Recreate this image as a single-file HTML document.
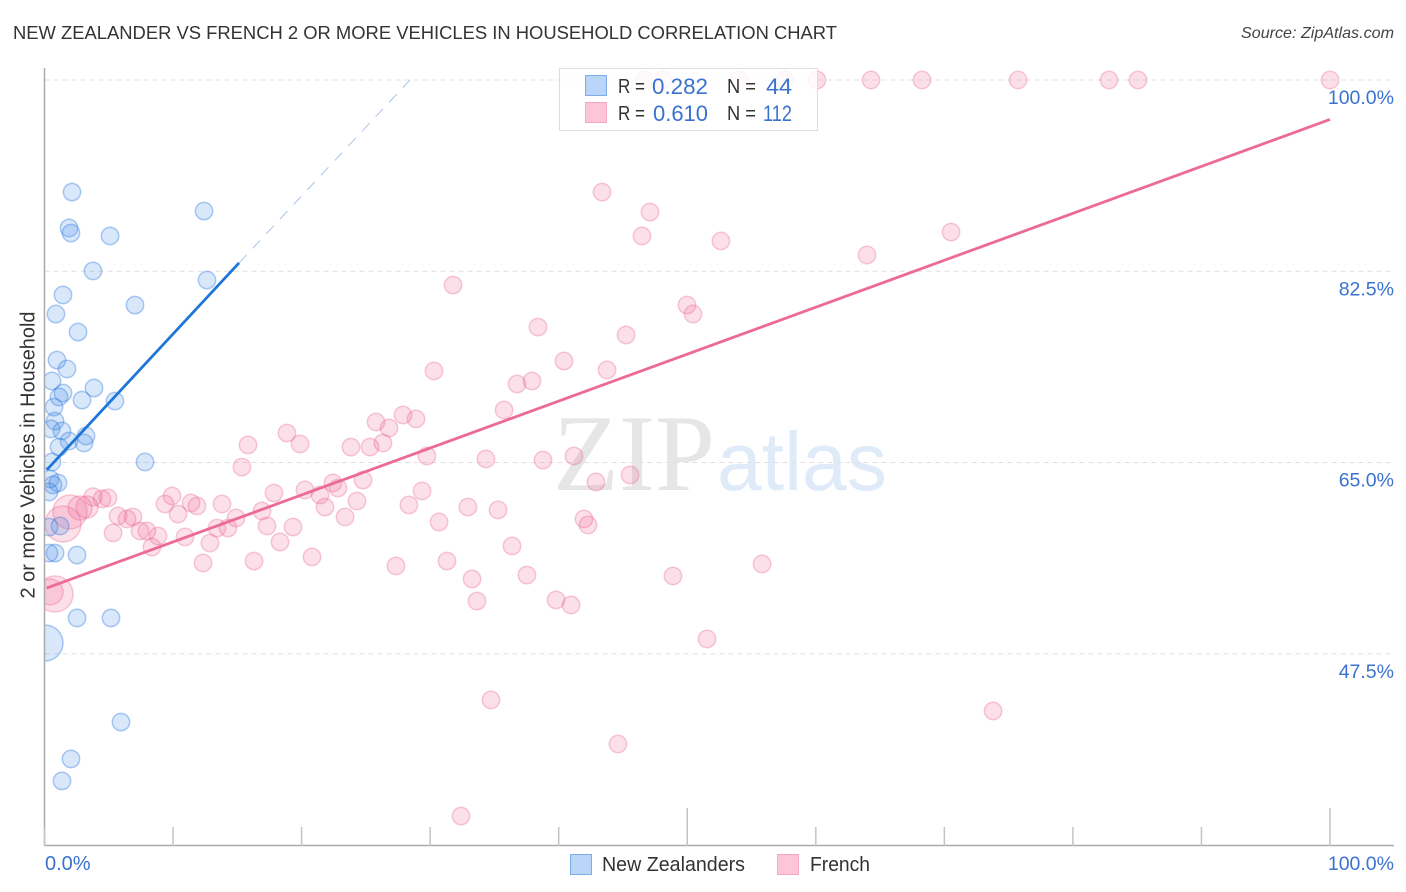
<!DOCTYPE html>
<html lang="en">
<head>
<meta charset="utf-8">
<title>New Zealander vs French 2 or more Vehicles in Household Correlation Chart</title>
<style>
html,body{margin:0;padding:0;background:#fff;width:1406px;height:892px;overflow:hidden}
svg{display:block;font-family:"Liberation Sans",Arial,sans-serif}
</style>
</head>
<body>
<svg id="chart" width="1406" height="892" viewBox="0 0 1406 892" xmlns="http://www.w3.org/2000/svg">
  <defs>
    <clipPath id="plot-clip"><rect x="45" y="60" width="1350" height="786"></rect></clipPath>
  </defs>
  <rect x="0" y="0" width="1406" height="892" fill="#fff"></rect>
  <text x="13" y="39" font-size="18" fill="#333" textLength="824" lengthAdjust="spacingAndGlyphs">NEW ZEALANDER VS FRENCH 2 OR MORE VEHICLES IN HOUSEHOLD CORRELATION CHART</text>
  <text x="1241" y="38" font-size="16" font-style="italic" fill="#444" textLength="153" lengthAdjust="spacingAndGlyphs">Source: ZipAtlas.com</text>
  <g>
    <text x="553" y="490" font-family="'Liberation Serif',serif" font-size="109" fill="#e6e6e6" textLength="162" lengthAdjust="spacingAndGlyphs">ZIP</text>
    <text x="717" y="490" font-size="83" fill="#e0ebf9" textLength="170" lengthAdjust="spacingAndGlyphs">atlas</text>
  </g>
  <g id="grid"></g>
  <g id="marks" clip-path="url(#plot-clip)"></g>
  <g id="trends"></g>
  <g id="axes"></g>
  <text transform="translate(34.5,455) rotate(-90)" font-size="20" fill="#333" text-anchor="middle" textLength="287" lengthAdjust="spacingAndGlyphs">2 or more Vehicles in Household</text>
  <g>
    <rect x="559.5" y="68.5" width="258" height="62" fill="#fff" fill-opacity="0.84" stroke="#ddd" stroke-width="1"></rect>
    <rect x="585.5" y="75.5" width="21" height="20" fill="#b9d5f8" stroke="#7fabe6"></rect>
    <rect x="585.5" y="102.5" width="21" height="20" fill="#fcc6d8" stroke="#f3a9c2"></rect>
    <g font-size="20" fill="#333">
      <text x="618" y="93" textLength="27" lengthAdjust="spacingAndGlyphs">R =</text>
      <text x="727" y="93" textLength="29" lengthAdjust="spacingAndGlyphs">N =</text>
      <text x="618" y="120" textLength="27" lengthAdjust="spacingAndGlyphs">R =</text>
      <text x="727" y="120" textLength="29" lengthAdjust="spacingAndGlyphs">N =</text>
    </g>
    <g font-size="22" fill="#3a72cf">
      <text x="652" y="94" textLength="56" lengthAdjust="spacingAndGlyphs">0.282</text>
      <text x="766" y="94" textLength="26" lengthAdjust="spacingAndGlyphs">44</text>
      <text x="653" y="121" textLength="55" lengthAdjust="spacingAndGlyphs">0.610</text>
      <text x="763" y="121" textLength="29" lengthAdjust="spacingAndGlyphs">112</text>
    </g>
  </g>
  <g>
    <rect x="570.5" y="854.5" width="21" height="20" fill="#b9d5f8" stroke="#7fabe6"></rect>
    <text x="602" y="871" font-size="20" fill="#333" textLength="143" lengthAdjust="spacingAndGlyphs">New Zealanders</text>
    <rect x="777.5" y="854.5" width="21" height="20" fill="#fcc6d8" stroke="#f3a9c2"></rect>
    <text x="810" y="871" font-size="20" fill="#333" textLength="60" lengthAdjust="spacingAndGlyphs">French</text>
  </g>
</svg>
<script>
const yTickValues = [100, 82.5, 65, 47.5];
const yTickLabels = ["100.0%", "82.5%", "65.0%", "47.5%"];
const xTickValues = [0, 10, 20, 30, 40, 50, 60, 70, 80, 90, 100];
const xEndLabels = ["0.0%", "100.0%"];

const blueX = [2.14,1.91,2.06,5.10,12.41,3.77,12.64,1.44,7.04,0.89,2.61,0.97,1.75,0.58,3.85,1.44,1.13,2.92,5.48,0.74,0.82,0.51,1.36,1.91,3.23,3.07,1.13,0.58,7.82,0.43,1.05,0.66,0.35,1.21,0.35,0.82,0.35,2.53,2.53,5.17,0.04,5.95,2.06,1.36];
const blueY = [89.75,86.46,86.00,85.73,88.01,82.53,81.70,80.33,79.41,78.59,76.94,74.38,73.56,72.46,71.82,71.36,71.00,70.72,70.63,70.08,68.80,68.07,67.89,66.97,67.43,66.79,66.42,65.05,65.05,63.50,63.13,62.95,62.31,59.20,59.10,56.72,56.72,56.54,50.78,50.78,48.49,41.26,37.88,35.87];
const blueWeight = [1,1,1,1,1,1,1,1,1,1,1,1,1,1,1,1,1,1,1,1,1,1,1,1,1,1,1,1,1,1,1,1,1,1,1,1,1,1,1,1,4.28,1,1,1];

const pinkX = [46.64,48.12,54.03,57.60,60.09,64.29,68.26,75.73,82.81,85.06,100,43.37,47.10,46.48,52.62,70.52,63.98,31.78,49.98,50.45,38.39,45.24,40.41,30.30,43.76,36.76,37.92,35.75,27.89,28.90,25.79,26.80,26.33,18.86,15.83,19.88,23.84,25.32,29.75,34.34,38.78,41.19,45.55,42.90,15.36,22.44,22.83,24.78,20.26,21.43,17.85,29.37,28.35,32.94,35.28,24.31,21.82,23.38,16.92,30.69,41.97,42.28,19.33,17.31,13.42,14.27,14.90,13.81,11.86,11.40,9.92,9.37,10.39,10.93,6.88,6.42,5.72,5.33,7.43,7.97,8.83,8.36,12.87,18.32,20.81,16.30,12.33,27.34,31.31,36.37,33.26,37.53,33.64,39.79,40.96,48.89,55.82,51.54,34.73,73.79,44.61,32.40,3.77,4.47,4.94,3.31,2.76,1.98,1.44,0.82,0.43];
const pinkY = [100,100,100,100,100,100,100,100,100,100,100,89.75,87.92,85.73,85.27,86.09,83.99,81.24,79.41,78.59,77.40,76.67,74.29,73.38,73.47,72.19,72.46,69.81,69.35,68.99,68.71,68.16,66.79,67.70,66.61,66.70,66.42,66.42,65.60,65.33,65.23,65.60,63.86,63.22,64.59,63.13,62.67,63.40,62.49,62.03,62.21,62.40,61.12,60.93,60.66,61.48,60.93,60.02,60.57,59.56,59.84,59.29,59.10,59.20,59.01,59.01,59.93,61.21,61.03,61.30,61.94,61.21,60.29,58.19,60.02,59.84,60.11,58.56,58.74,58.74,58.28,57.27,57.64,57.73,56.36,55.99,55.81,55.54,55.99,57.37,54.35,54.71,52.33,52.43,51.97,54.62,55.72,48.86,43.28,42.27,39.25,32.66,61.85,61.67,61.76,60.93,60.84,60.48,59.38,52.97,53.16];
const pinkWeight = [1,1,1,1,1,1,1,1,1,1,1,1,1,1,1,1,1,1,1,1,1,1,1,1,1,1,1,1,1,1,1,1,1,1,1,1,1,1,1,1,1,1,1,1,1,1,1,1,1,1,1,1,1,1,1,1,1,1,1,1,1,1,1,1,1,1,1,1,1,1,1,1,1,1,1,1,1,1,1,1,1,1,1,1,1,1,1,1,1,1,1,1,1,1,1,1,1,1,1,1,1,1,1.07,1,1,1.6,1.9,3.82,4.28,4.28,2.23];

const blueTrendX = [0.17, 15.13];
const blueTrendY = [64.32, 83.26];
const blueExtensionX = [15.13, 28.43];
const blueExtensionY = [83.26, 100];
const pinkTrendX = [0.17, 100];
const pinkTrendY = [53.52, 96.39];

const NS = "http://www.w3.org/2000/svg";
function xScale(v) { return 44.5 + v * 12.855; }
function yScale(v) { return 80 + (100 - v) * 10.93; }
function radius(w) { return 8.7 * Math.sqrt(w); }
function make(tag, attrs, parent) {
  const el = document.createElementNS(NS, tag);
  for (const k in attrs) el.setAttribute(k, attrs[k]);
  parent.appendChild(el);
  return el;
}
const grid = document.getElementById("grid");
const axes = document.getElementById("axes");
const marks = document.getElementById("marks");
const trends = document.getElementById("trends");

yTickValues.forEach(function (v, i) {
  const g = make("line", {x1: 44.5, x2: 1394, y1: yScale(v), y2: yScale(v), stroke: "#e0e0e0", "stroke-width": 1, "stroke-dasharray": "5 4"}, grid);
  
  
  const t = make("text", {x: 1394, y: yScale(v) + 24, "text-anchor": "end", "font-size": 19.5, fill: "#3a72cf"}, axes);
  t.textContent = yTickLabels[i];
  
  
});

const yAxis = make("line", {x1: 44.5, x2: 44.5, y1: 68, y2: 846, stroke: "#aaa", "stroke-width": 1.5}, axes);


const xAxis = make("line", {x1: 44, x2: 1394, y1: 845.5, y2: 845.5, stroke: "#aaa", "stroke-width": 1.5}, axes);



xTickValues.forEach(function (v) {
  const tall = v === 50 || v === 100;
  const tick = make("line", {x1: xScale(v), x2: xScale(v), y1: tall ? 808 : 827, y2: 846, stroke: "#c4c4c4", "stroke-width": 1.5}, axes);
  
  
});

const x0Label = make("text", {x: 45, y: 870, "font-size": 20, fill: "#3a72cf"}, axes);
x0Label.textContent = xEndLabels[0];


const x1Label = make("text", {x: 1394, y: 870, "text-anchor": "end", "font-size": 19.5, fill: "#3a72cf"}, axes);
x1Label.textContent = xEndLabels[1];



pinkX.forEach(function (v, i) {
  const c = make("circle", {cx: xScale(v), cy: yScale(pinkY[i]), r: radius(pinkWeight[i]), fill: "#f0628f", "fill-opacity": 0.2, stroke: "#e8608c", "stroke-opacity": 0.33, "stroke-width": 1.5}, marks);
  
  
});
blueX.forEach(function (v, i) {
  const c = make("circle", {cx: xScale(v), cy: yScale(blueY[i]), r: radius(blueWeight[i]), fill: "#3d87e6", "fill-opacity": 0.2, stroke: "#2f78dc", "stroke-opacity": 0.38, "stroke-width": 1.5}, marks);
  
  
});

const blueExt = make("line", {x1: xScale(blueExtensionX[0]), y1: yScale(blueExtensionY[0]), x2: xScale(blueExtensionX[1]), y2: yScale(blueExtensionY[1]), stroke: "#a9c4ec", "stroke-width": 1, "stroke-dasharray": "11 9"}, trends);


const blueLine = make("line", {x1: xScale(blueTrendX[0]), y1: yScale(blueTrendY[0]), x2: xScale(blueTrendX[1]), y2: yScale(blueTrendY[1]), stroke: "#1f76d8", "stroke-width": 2.8}, trends);


const pinkLine = make("line", {x1: xScale(pinkTrendX[0]), y1: yScale(pinkTrendY[0]), x2: xScale(pinkTrendX[1]), y2: yScale(pinkTrendY[1]), stroke: "#ec6a9a", "stroke-width": 2.8}, trends);


</script>
</body>
</html>
